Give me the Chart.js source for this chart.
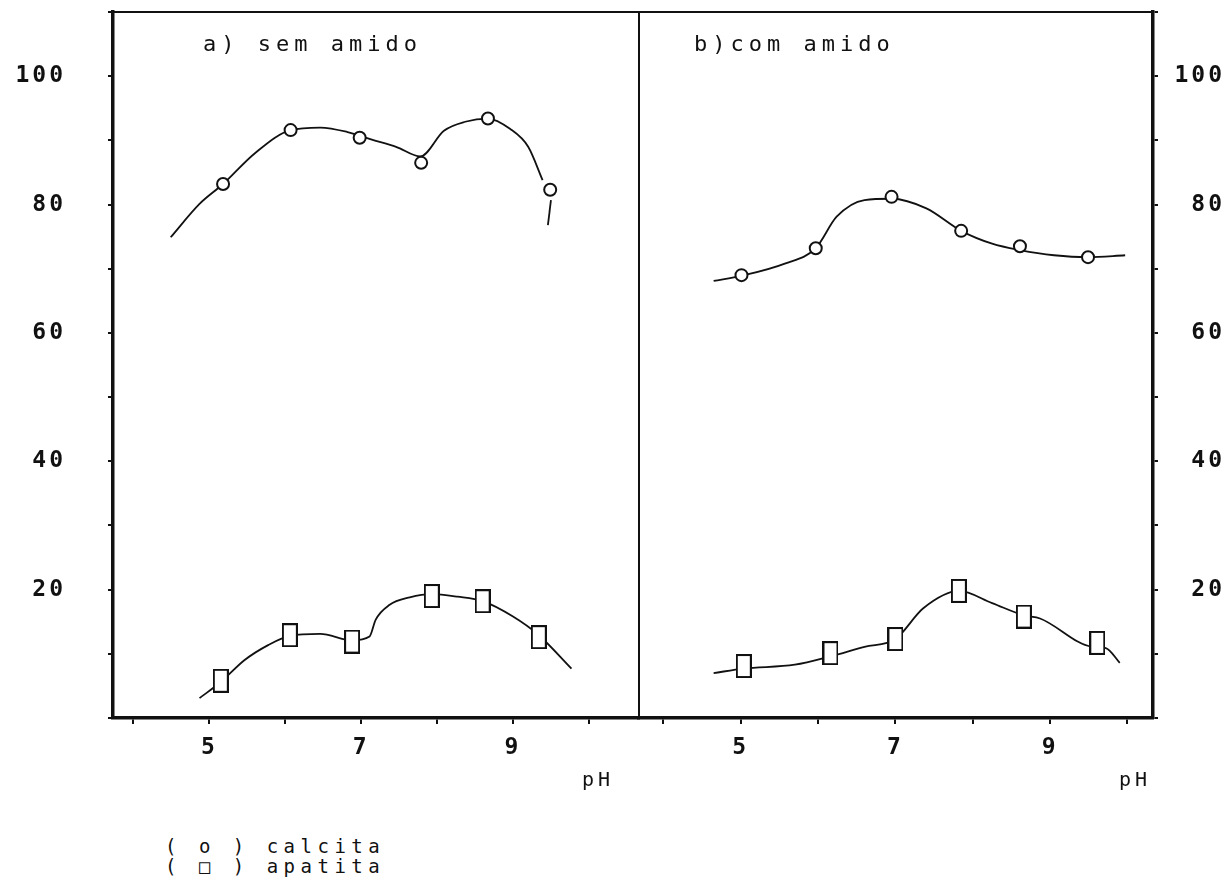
<!DOCTYPE html>
<html>
<head>
<meta charset="utf-8">
<script src="https://cdn.jsdelivr.net/npm/chart.js@4.4.1/dist/chart.umd.min.js"></script>
<style>
  body { margin: 0; background: #fff; width: 1231px; height: 892px; position: relative; overflow: hidden;
         font-family: "DejaVu Sans Mono", monospace; color: #111; }
  canvas { position: absolute; top: 0; }
  #cA { left: 0; }
  #cB { left: 630px; }
  .leg { position: absolute; left: 165px; font-size: 19px; letter-spacing: 5.5px; line-height: 20px; white-space: pre; }
</style>
</head>
<body>
<canvas id="cA" width="640" height="800"></canvas>
<canvas id="cB" width="601" height="800"></canvas>
<div class="leg" style="top:836px">( o ) calcita</div>
<div class="leg" style="top:856px">( □ ) apatita</div>
<script>
// a) sem amido - measured points
const phCalA = [5.18, 6.07, 6.98, 7.79, 8.67, 9.49];
const calA   = [83.2, 91.6, 90.4, 86.5, 93.4, 82.3];
const phApaA = [5.15, 6.06, 6.88, 7.93, 8.60, 9.34];
const apaA   = [5.8, 12.9, 11.9, 19.0, 18.2, 12.6];

// b) com amido - measured points
const phCalB = [5.01, 5.97, 6.95, 7.85, 8.61, 9.49];
const calB   = [69.0, 73.2, 81.2, 75.9, 73.5, 71.8];
const phApaB = [5.04, 6.16, 7.00, 7.82, 8.66, 9.61];
const apaB   = [8.1, 10.1, 12.3, 19.8, 15.8, 11.7];

// hand drawn fitting curves
const curveCalA_ph = [4.49, 4.87, 5.18, 5.60, 6.07, 6.46, 6.82, 7.14, 7.46, 7.78, 8.09, 8.37, 8.67, 8.96, 9.20, 9.39];
const curveCalA    = [74.9, 80.1, 83.2, 88.0, 91.6, 92.0, 91.3, 90.1, 89.0, 87.5, 91.5, 92.9, 93.4, 91.8, 89.0, 83.8];
const tailCalA_ph  = [9.50, 9.46];
const tailCalA     = [80.7, 76.8];
const curveApaA_ph = [4.87, 5.15, 5.46, 5.78, 6.06, 6.46, 6.88, 7.11, 7.19, 7.37, 7.64, 7.93, 8.27, 8.60, 9.00, 9.34, 9.77];
const curveApaA    = [3.1, 5.6, 9.0, 11.4, 12.8, 13.1, 12.1, 12.7, 15.3, 17.6, 18.8, 19.3, 18.9, 18.2, 15.8, 12.9, 7.7];

const curveCalB_ph = [4.65, 5.01, 5.57, 5.97, 6.24, 6.60, 6.95, 7.40, 7.85, 8.25, 8.61, 9.05, 9.49, 9.97];
const curveCalB    = [68.1, 68.9, 70.8, 73.2, 78.1, 80.7, 80.9, 79.4, 75.9, 73.9, 72.9, 72.1, 71.8, 72.1];
const curveApaB_ph = [4.65, 5.04, 5.70, 6.16, 6.60, 7.00, 7.36, 7.82, 8.25, 8.66, 8.87, 9.54, 9.72, 9.90];
const curveApaB    = [7.0, 7.7, 8.3, 9.6, 11.1, 12.3, 17.1, 19.8, 17.9, 16.0, 15.5, 11.1, 10.9, 8.6];

const yLabels = [20, 40, 60, 80, 100];
const xLabels = [5, 7, 9];

const ink = '#111';
Chart.defaults.font.family = '"DejaVu Sans Mono", monospace';
Chart.defaults.color = ink;

const xy = (xs, ys) => xs.map((x, i) => ({ x: x, y: ys[i] }));

// tall rectangle marker used for apatita
function boxMarker(w, h) {
  const c = document.createElement('canvas');
  c.width = w; c.height = h;
  const g = c.getContext('2d');
  g.fillStyle = '#fff';
  g.fillRect(0, 0, w, h);
  g.strokeStyle = ink;
  g.lineWidth = 2;
  g.strokeRect(1, 1, w - 2, h - 2);
  return c;
}
const box = boxMarker(16, 24);

function markers(xs, ys, style) {
  return {
    data: xy(xs, ys), showLine: false, order: 0,
    pointStyle: style, pointRadius: 6, pointBorderWidth: 2,
    pointBackgroundColor: '#fff', pointBorderColor: ink
  };
}
function curve(xs, ys, mode) {
  return {
    data: xy(xs, ys), showLine: true, order: 1, pointRadius: 0,
    borderColor: ink, borderWidth: 1.8,
    cubicInterpolationMode: mode || 'monotone', tension: mode ? 0 : 0.4
  };
}

// thin top border, divider line, panel title, pH label
const frame = {
  id: 'frame',
  beforeDraw(chart) { chart.ctx.letterSpacing = '3px'; },
  afterDraw(chart, args, o) {
    const ctx = chart.ctx, a = chart.chartArea;
    ctx.save();
    ctx.strokeStyle = ink;
    ctx.lineWidth = 2;
    ctx.beginPath();
    ctx.moveTo(a.left, a.top); ctx.lineTo(a.right, a.top);
    const xd = o.side === 'left' ? a.right : a.left;
    ctx.moveTo(xd, a.top); ctx.lineTo(xd, a.bottom);
    ctx.stroke();
    ctx.fillStyle = ink;
    ctx.textBaseline = 'middle';
    ctx.textAlign = 'left';
    ctx.font = '22px "DejaVu Sans Mono"';
    ctx.letterSpacing = '5px';
    ctx.fillText(o.title, o.titleX, 45);
    ctx.font = '20px "DejaVu Sans Mono"';
    ctx.letterSpacing = '4px';
    ctx.fillText('pH', o.phX, 781);
    ctx.restore();
  }
};

const noPad = s => { s.paddingLeft = 0; s.paddingRight = 0; s.paddingTop = 0; s.paddingBottom = 0; };

function axes(xmin, xmax, side) {
  return {
    x: {
      type: 'linear', min: xmin, max: xmax,
      afterFit: s => { s.height = 82; noPad(s); },
      border: { display: true, color: ink, width: 3.5 },
      grid: { drawOnChartArea: false, drawTicks: true, tickLength: 6, color: ink, lineWidth: 2 },
      ticks: {
        stepSize: 1, includeBounds: false, autoSkip: false, maxTicksLimit: 20, maxRotation: 0,
        padding: 0, font: { size: 23, weight: 'bold', lineHeight: 2.1 },
        callback: v => xLabels.includes(v) ? String(v) : ''
      }
    },
    y: {
      position: side, min: 0, max: 110,
      afterFit: s => { s.width = side === 'left' ? 113 : 72; noPad(s); },
      border: { display: true, color: ink, width: 3.5 },
      grid: { drawOnChartArea: false, drawTicks: true, tickLength: 5, color: ink, lineWidth: 2 },
      ticks: {
        stepSize: 10, maxTicksLimit: 20, autoSkip: false,
        padding: side === 'left' ? 42 : 0, crossAlign: side === 'left' ? 'near' : 'far',
        font: { size: 23, weight: 'bold' },
        callback: v => yLabels.includes(v) ? String(v) : ''
      }
    }
  };
}

new Chart(document.getElementById('cA'), {
  type: 'scatter',
  data: {
    datasets: [
      markers(phCalA, calA, 'circle'),
      markers(phApaA, apaA, box),
      curve(curveCalA_ph, curveCalA),
      curve(tailCalA_ph, tailCalA, 'default'),
      curve(curveApaA_ph, curveApaA)
    ]
  },
  options: {
    responsive: false, animation: false, events: [],
    layout: { autoPadding: false, padding: { left: 0, top: 12, right: 1, bottom: 0 } },
    scales: axes(3.73, 10.66, 'left'),
    plugins: {
      legend: { display: false }, tooltip: { enabled: false },
      frame: { side: 'left', title: 'a) sem amido', titleX: 203, phX: 582 }
    }
  },
  plugins: [frame]
});

new Chart(document.getElementById('cB'), {
  type: 'scatter',
  data: {
    datasets: [
      markers(phCalB, calB, 'circle'),
      markers(phApaB, apaB, box),
      curve(curveCalB_ph, curveCalB),
      curve(curveApaB_ph, curveApaB)
    ]
  },
  options: {
    responsive: false, animation: false, events: [],
    layout: { autoPadding: false, padding: { left: 9, top: 12, right: 6, bottom: 0 } },
    scales: axes(3.685, 10.33, 'right'),
    plugins: {
      legend: { display: false }, tooltip: { enabled: false },
      frame: { side: 'right', title: 'b)com amido', titleX: 64, phX: 489 }
    }
  },
  plugins: [frame]
});
</script>
</body>
</html>
